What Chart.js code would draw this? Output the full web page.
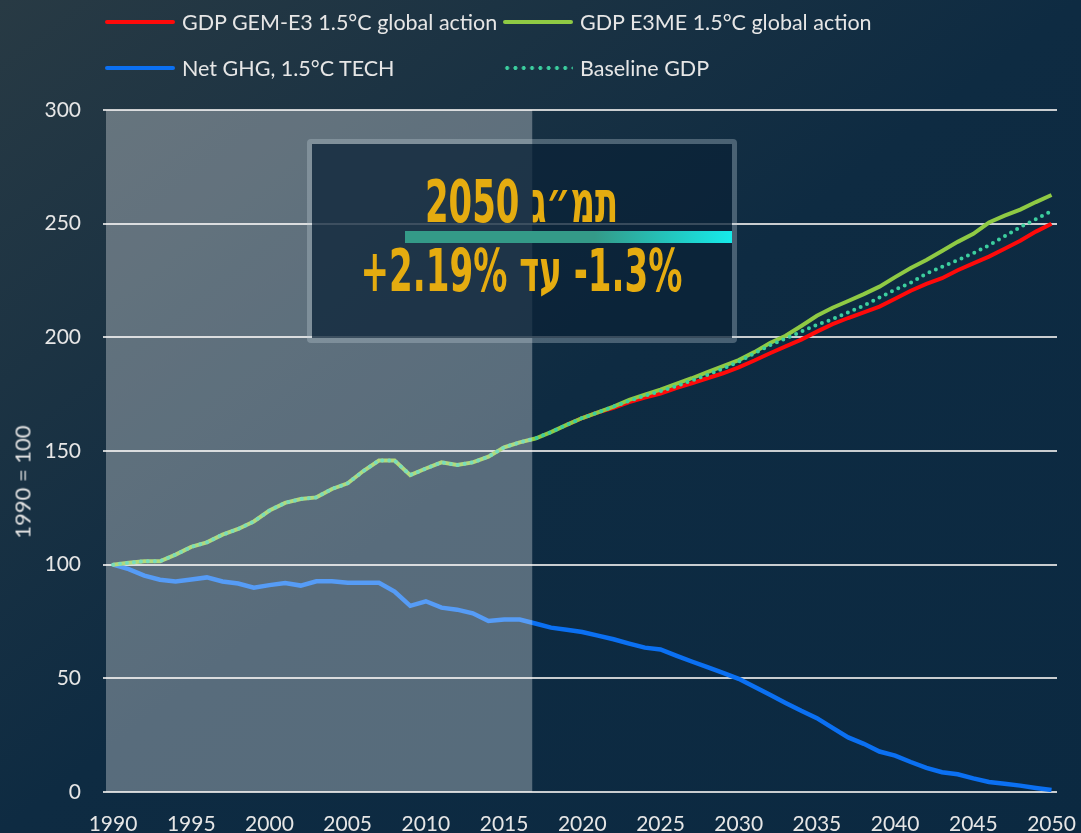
<!DOCTYPE html>
<html>
<head>
<meta charset="utf-8">
<script src="https://cdn.jsdelivr.net/npm/chart.js@4.4.0/dist/chart.umd.min.js"></script>
<style>
  html, body { margin: 0; padding: 0; }
  body {
    width: 1081px; height: 833px; overflow: hidden; position: relative;
    background: linear-gradient(to bottom right, #283a44 0%, #0e2b42 50%, #0b2941 100%);
    font-family: Lato, sans-serif;
  }
  #wrap { position: absolute; left: 0; top: 0; width: 1081px; height: 833px; }
  #legend {
    position: absolute; left: 105px; top: -1px;
    display: grid; grid-template-columns: 398px auto; grid-auto-rows: 46px;
  }
  #legend .item { display: flex; align-items: center; }
  #legend .key { width: 70px; height: 4px; margin-right: 7px; border-radius: 2px; }
  #legend .txt { font-size: 21.5px; color: #e6e6e6; white-space: nowrap; }
  #ytitle {
    position: absolute; left: 22px; top: 482px; white-space: nowrap;
    transform: translate(-50%, -50%) rotate(-90deg);
    font-size: 22px; color: #e0e0e0;
  }
  #box {
    position: absolute; left: 307px; top: 139px; width: 430px; height: 204px;
    box-sizing: border-box; border: 5px solid rgba(190, 205, 215, 0.33); border-radius: 4px;
    background: rgba(11, 34, 55, 0.76); background-clip: padding-box;
  }
  #bar {
    position: absolute; left: 405px; top: 231px; width: 327px; height: 12px;
    background: linear-gradient(to right, #349a88 0%, #349a88 58%, #16eaea 100%);
  }
  .heb {
    position: absolute; left: 121.5px; width: 800px; text-align: center;
    color: #e5ac10; font: bold 58px "DejaVu Sans Condensed", "DejaVu Sans", sans-serif;
    line-height: 58px; white-space: nowrap;
  }
  .heb span { display: inline-block; transform-origin: 50% 50%; }
</style>
</head>
<body>
<div id="wrap"><canvas id="c"></canvas></div>
<div id="legend"></div>
<div id="ytitle">1990 = 100</div>
<div id="box"></div>
<div id="bar"></div>
<div class="heb" id="h1" dir="rtl" style="top:173px"><span>תמ״ג 2050</span></div>
<div class="heb" id="h2" dir="rtl" style="top:242px"><span><bdi dir="ltr">-1.3%</bdi> עד <bdi dir="ltr">+2.19%</bdi></span></div>
<script>
// ---- data -----------------------------------------------------------------
const YEARS = [
  1990, 1991, 1992, 1993, 1994, 1995, 1996, 1997, 1998, 1999,
  2000, 2001, 2002, 2003, 2004, 2005, 2006, 2007, 2008, 2009,
  2010, 2011, 2012, 2013, 2014, 2015, 2016, 2017, 2018, 2019,
  2020, 2021, 2022, 2023, 2024, 2025, 2026, 2027, 2028, 2029,
  2030, 2031, 2032, 2033, 2034, 2035, 2036, 2037, 2038, 2039,
  2040, 2041, 2042, 2043, 2044, 2045, 2046, 2047, 2048, 2049, 2050,
];
const YEAR_TICKS = [1990, 1995, 2000, 2005, 2010, 2015, 2020, 2025, 2030, 2035, 2040, 2045, 2050];
const Y_TICKS = [0, 50, 100, 150, 200, 250, 300];

const GDP_E3ME = [
  100, 100.8, 101.5, 101.5, 104.4, 107.8, 109.8, 113.2, 115.7, 119,
  123.8, 127.2, 128.9, 129.6, 133.3, 135.8, 141.2, 145.8, 145.8, 139.4,
  142.3, 145, 143.8, 145, 147.5, 151.6, 153.8, 155.5, 158.3, 161.5,
  164.5, 167, 169.5, 172.5, 174.8, 177, 179.5, 182, 184.7, 187.3,
  190, 193.5, 197.5, 200.7, 205, 209.5, 213, 216, 219, 222.3,
  226.5, 230.5, 234, 238, 242, 245.5, 250.5, 253.5, 256.2, 259.5, 262.6,
];
const GDP_GEME3 = [
  null, null, null, null, null, null, null, null, null, null,
  null, null, null, null, null, null, null, null, null, null,
  null, null, null, null, null, null, null, null, null, 161.5,
  164.5, 167, 169, 171.5, 173.5, 175.3, 177.7, 179.8, 182, 184.2,
  186.8, 189.8, 193, 196, 199, 202.5, 205.8, 208.5, 211, 213.5,
  217, 220.5, 223.5, 226, 229.5, 232.5, 235.5, 239, 242.5, 246.5, 250,
];
const BASELINE = [
  100, 100.8, 101.5, 101.5, 104.4, 107.8, 109.8, 113.2, 115.7, 119,
  123.8, 127.2, 128.9, 129.6, 133.3, 135.8, 141.2, 145.8, 145.8, 139.4,
  142.3, 145, 143.8, 145, 147.5, 151.6, 153.8, 155.5, 158.3, 161.5,
  164.5, 167, 169.5, 172, 174.3, 176.3, 178.5, 181, 183.5, 186.3,
  189.3, 193, 196.5, 199.5, 202.5, 205.5, 208, 211, 214, 217.5,
  221, 224, 228, 231, 234, 237, 240.5, 244.5, 248.5, 252, 255.5,
];
const NET_GHG = [
  100, 98, 95.2, 93.4, 92.6, 93.5, 94.4, 92.6, 91.7, 89.9,
  91, 91.9, 90.8, 92.7, 92.7, 92, 92, 92, 88.2, 81.9,
  83.9, 81.1, 80.2, 78.6, 75.2, 75.9, 75.9, 74.1, 72.3, 71.4,
  70.4, 68.8, 67.2, 65.3, 63.5, 62.7, 60, 57.4, 54.9, 52.4,
  49.8, 46.3, 42.8, 39.2, 35.7, 32.5, 28.2, 24, 21.2, 17.8,
  16, 13.2, 10.6, 8.7, 7.8, 6, 4.4, 3.6, 2.8, 1.8, 0.9,
];
const HISTORY_END = 2016.8; // shaded "observed" period ends here

const COLORS = {
  gem: "#ff0a0a",
  e3me: "#8fca44",
  ghg: "#0b70f2",
  base: "#3ccf9f",
  tick: "#e6e6e6",
  grid: "rgba(228,228,228,0.88)",
};

// ---- datasets ---------------------------------------------------------------
const pts = (vals) => YEARS.map((yr, i) => ({ x: yr, y: vals[i] }));
const SERIES = {
  base: { label: "Baseline GDP", data: pts(BASELINE), borderColor: COLORS.base, borderWidth: 4,
          borderDash: [0, 7], borderCapStyle: "round" },
  e3me: { label: "GDP E3ME 1.5°C global action", data: pts(GDP_E3ME), borderColor: COLORS.e3me, borderWidth: 4 },
  gem:  { label: "GDP GEM-E3 1.5°C global action", data: pts(GDP_GEME3), borderColor: COLORS.gem, borderWidth: 4 },
  ghg:  { label: "Net GHG, 1.5°C TECH", data: pts(NET_GHG), borderColor: COLORS.ghg, borderWidth: 4.5 },
};
// first dataset is drawn on top
const DRAW_ORDER = ["base", "e3me", "gem", "ghg"];
const LEGEND_ORDER = ["gem", "e3me", "ghg", "base"];

// ---- legend (html) ------------------------------------------------------------
document.getElementById("legend").innerHTML = LEGEND_ORDER.map(k => {
  const s = SERIES[k];
  const key = s.borderDash
    ? `background:radial-gradient(circle, ${s.borderColor} 1.7px, transparent 2.2px);background-size:8.3px 4px;`
    : `background:${s.borderColor};`;
  return `<div class="item"><span class="key" style="${key}"></span><span class="txt">${s.label}</span></div>`;
}).join("");

// ---- shaded history band, drawn over the lines ------------------------------------
const shade = {
  id: "shade",
  afterDatasetsDraw(chart) {
    const { ctx, chartArea: a, scales: { x } } = chart;
    const r = x.getPixelForValue(HISTORY_END);
    ctx.save();
    ctx.fillStyle = "rgba(255,255,255,0.31)";
    ctx.fillRect(a.left, a.top, r - a.left, a.bottom - a.top);
    ctx.restore();
  },
};

const tickFont = { family: "Lato", size: 21 };

new Chart(document.getElementById("c"), {
  type: "line",
  data: { datasets: DRAW_ORDER.map(k => ({ ...SERIES[k], pointRadius: 0, tension: 0, fill: false })) },
  options: {
    responsive: true, maintainAspectRatio: false, animation: false, devicePixelRatio: 1,
    layout: { padding: { top: 110, right: 24, left: 0, bottom: 0 } },
    plugins: { legend: { display: false }, tooltip: { enabled: false } },
    scales: {
      x: {
        type: "linear", min: 1989.55, max: 2050.35,
        grid: { display: false }, border: { display: false },
        afterBuildTicks: (s) => { s.ticks = YEAR_TICKS.map(v => ({ value: v })); },
        afterFit: (s) => { s.height = 41; s.paddingLeft = 0; s.paddingRight = 0; },
        ticks: { color: COLORS.tick, font: tickFont, padding: 12, maxRotation: 0, autoSkip: false,
                 callback: (v) => String(v) },
      },
      y: {
        min: 0, max: 300,
        afterBuildTicks: (s) => { s.ticks = Y_TICKS.map(v => ({ value: v })); },
        afterFit: (s) => { s.width = 106; },
        grid: { color: COLORS.grid, lineWidth: 2, tickLength: 3 },
        border: { display: false },
        ticks: { color: COLORS.tick, font: tickFont, padding: 22 },
      },
    },
  },
  plugins: [shade],
});

// squeeze the headline text to the condensed width of the original
function fitHeb() {
  [["h1", 193], ["h2", 322]].forEach(([id, w]) => {
    const sp = document.querySelector(`#${id} span`);
    sp.style.transform = `scaleX(${w / sp.offsetWidth})`;
  });
}
fitHeb();
if (document.fonts) document.fonts.ready.then(fitHeb);
</script>
</body>
</html>
